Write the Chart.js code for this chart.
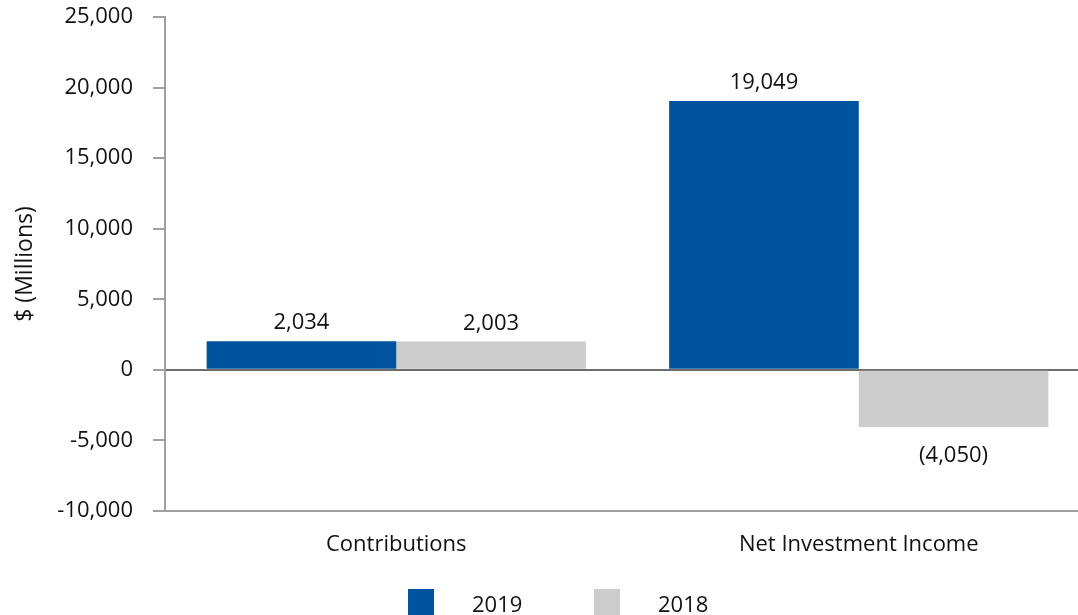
<!DOCTYPE html>
<html>
<head>
<meta charset="utf-8">
<script src="https://cdn.jsdelivr.net/npm/chart.js"></script>
<style>
  html, body { margin: 0; padding: 0; background: #fff; overflow: hidden; }
  #wrap { width: 1090px; height: 615px; position: relative; }
</style>
</head>
<body>
<div id="wrap"><canvas id="chart"></canvas></div>
<script>
const categories = ["Contributions", "Net Investment Income"];
const seriesNames = ["2019", "2018"];
const values2019 = [2034, 19049];
const values2018 = [2003, -4050];
const yMin = -10000;
const yMax = 25000;
const yStep = 5000;

const FONT = '"Open Sans", sans-serif';
const TEXT = "#111111";
const BLUE = "#00539f";
const GREY = "#cccccc";

const fmt = (v) => (v < 0 ? "(" + Math.abs(v).toLocaleString("en-US") + ")" : v.toLocaleString("en-US"));

// value labels above / below each bar
const valueLabels = {
  id: "valueLabels",
  afterDatasetsDraw(chart) {
    const ctx = chart.ctx;
    ctx.save();
    ctx.font = "22px " + FONT;
    ctx.fillStyle = TEXT;
    ctx.textAlign = "center";
    ctx.textBaseline = "middle";
    chart.data.datasets.forEach((ds, i) => {
      chart.getDatasetMeta(i).data.forEach((bar, j) => {
        const v = ds.data[j];
        ctx.fillText(fmt(v), bar.x, v < 0 ? bar.y + 29 : bar.y - 18);
      });
    });
    ctx.restore();
  },
};

// legend at the bottom, wide gap between swatch and text
const bottomLegend = {
  id: "bottomLegend",
  afterDraw(chart) {
    const ctx = chart.ctx;
    ctx.save();
    ctx.font = "22px " + FONT;
    ctx.textBaseline = "middle";
    ctx.textAlign = "left";
    chart.data.datasets.forEach((ds, i) => {
      const x = 408 + i * 186;
      ctx.fillStyle = ds.backgroundColor;
      ctx.fillRect(x, 589, 26, 26);
      ctx.fillStyle = TEXT;
      ctx.fillText(ds.label, x + 64, 606);
    });
    ctx.restore();
  },
};

new Chart(document.getElementById("chart"), {
  type: "bar",
  data: {
    labels: categories,
    datasets: [
      { label: seriesNames[0], data: values2019, backgroundColor: BLUE },
      { label: seriesNames[1], data: values2018, backgroundColor: GREY },
    ],
  },
  options: {
    responsive: true,
    maintainAspectRatio: false,
    animation: false,
    categoryPercentage: 0.82,
    barPercentage: 1,
    layout: { padding: { top: 17, left: 8, right: 0, bottom: 0 } },
    plugins: {
      legend: { display: false },
      tooltip: { enabled: false },
    },
    scales: {
      x: {
        grid: { display: false },
        border: { display: true, color: "#a0a0a0", width: 2 },
        ticks: { color: TEXT, font: { family: FONT, size: 22 }, padding: 13 },
        afterFit: (scale) => { scale.height = 104; },
      },
      y: {
        min: yMin,
        max: yMax,
        ticks: {
          stepSize: yStep,
          color: TEXT,
          padding: 20,
          font: { family: FONT, size: 22 },
          callback: (v) => v.toLocaleString("en-US"),
        },
        grid: {
          drawOnChartArea: true,
          drawTicks: true,
          tickLength: 12,
          lineWidth: 2,
          color: (c) => (c.tick && c.tick.value === 0 ? "#6d6d6d" : "rgba(0,0,0,0)"),
          tickColor: "#a0a0a0",
        },
        border: { display: true, color: "#a0a0a0", width: 2 },
        title: {
          display: true,
          text: "$ (Millions)",
          color: TEXT,
          font: { family: FONT, size: 23 },
        },
        afterFit: (scale) => {
          scale.width = 157;
          scale.paddingTop = 0;
          scale.paddingBottom = 0;
        },
      },
    },
  },
  plugins: [valueLabels, bottomLegend],
});
</script>
</body>
</html>
